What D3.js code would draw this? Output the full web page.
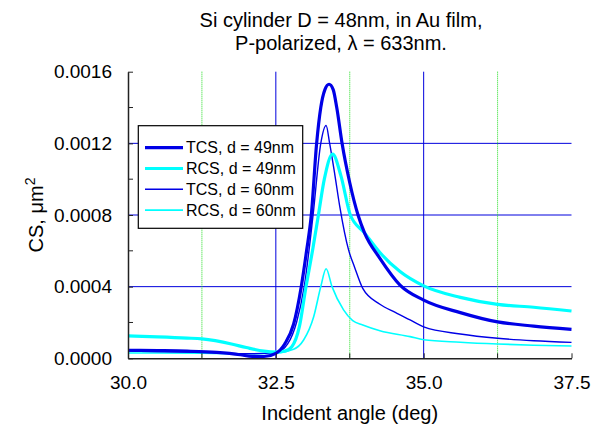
<!DOCTYPE html>
<html>
<head>
<meta charset="utf-8">
<script src="https://cdn.jsdelivr.net/npm/d3@7"></script>
<style>
  body { margin: 0; background: #fff; }
  text { font-family: Arial, "Liberation Sans", sans-serif; fill: #000; }
</style>
</head>
<body>
<div id="viz"></div>
<script>
// angle (deg) -> cross section (um^2)
const tcs49 = [
  [30.0, 0.000045], [30.5, 0.000043], [31.0, 0.00004], [31.5, 0.000033], [31.9, 0.00002],
  [32.1, 0.00001], [32.3, 0.00001], [32.5, 0.000028], [32.65, 0.00008], [32.8, 0.00019],
  [32.93, 0.0004], [33.02, 0.0006], [33.1, 0.0008], [33.19, 0.0012], [33.26, 0.0014],
  [33.33, 0.0015], [33.4, 0.00153], [33.47, 0.0015], [33.53, 0.0014], [33.62, 0.0012],
  [33.75, 0.00098], [33.89, 0.0008], [34.0, 0.0007], [34.26, 0.000558], [34.6, 0.000409],
  [35.0, 0.000325], [35.62, 0.000255], [36.25, 0.000203], [36.86, 0.00018], [37.5, 0.000162]
];
const rcs49 = [
  [30.0, 0.000125], [30.5, 0.00012], [31.0, 0.000113], [31.25, 0.000108], [31.75, 0.00008],
  [32.0, 0.00006], [32.3, 0.00004], [32.5, 0.000035], [32.65, 0.00004], [32.77, 0.000065],
  [32.9, 0.00018], [33.01, 0.0004], [33.12, 0.0006], [33.22, 0.0008], [33.32, 0.001],
  [33.46, 0.00114], [33.6, 0.00102], [33.76, 0.0008], [34.0, 0.0007], [34.26, 0.00059],
  [34.6, 0.000484], [35.0, 0.000404], [35.62, 0.00034], [36.25, 0.000301], [36.86, 0.000285],
  [37.5, 0.000264]
];
const tcs60 = [
  [30.0, 0.00004], [30.5, 0.000038], [31.0, 0.000035], [31.5, 0.00003], [32.0, 0.000025],
  [32.5, 0.00003], [32.7, 0.00008], [32.85, 0.0002], [32.98, 0.0004], [33.13, 0.0008],
  [33.26, 0.0012], [33.35, 0.0013], [33.41, 0.0012], [33.5, 0.00102], [33.58, 0.00085],
  [33.73, 0.000605], [33.83, 0.00051], [33.97, 0.00039], [34.26, 0.000302], [34.52, 0.000256],
  [34.77, 0.000214], [35.0, 0.000175], [35.62, 0.000136], [36.25, 0.000112], [36.86, 0.000098],
  [37.5, 0.000089]
];
const rcs60 = [
  [30.0, 0.00003], [30.5, 0.00003], [31.25, 0.000028], [32.0, 0.000025], [32.5, 0.00003],
  [32.8, 0.00005], [32.97, 0.000102], [33.14, 0.000232], [33.26, 0.0004], [33.35, 0.0005],
  [33.45, 0.0004], [33.645, 0.00027], [33.8, 0.00021], [33.97, 0.000186], [34.26, 0.000154],
  [34.77, 0.000121], [35.0, 0.000104], [35.62, 0.00009], [36.25, 0.00008], [36.86, 0.000073],
  [37.5, 0.0000687]
];

const seriesNames = ["TCS, d = 49nm", "RCS, d = 49nm", "TCS, d = 60nm", "RCS, d = 60nm"];
const xMajor = [30.0, 32.5, 35.0, 37.5];
const xMinor = [31.25, 33.75, 36.25];
const yMajor = [0, 0.0004, 0.0008, 0.0012, 0.0016];
const yMinor = [0.0002, 0.0006, 0.001, 0.0014];
const titleLines = ["Si cylinder D = 48nm, in Au film,", "P-polarized, \u03bb = 633nm."];

const W = 603, H = 426;
const plotLeft = 128, plotRight = 571.5, plotTop = 71.7, plotBottom = 358.3;

const svg = d3.select("#viz").append("svg")
  .attr("width", W)
  .attr("height", H);

const x = d3.scaleLinear().domain([30, 37.5]).range([plotLeft, plotRight]);
const y = d3.scaleLinear().domain([0, 0.0016]).range([plotBottom, plotTop]);

// grid: blue solid at major, green dotted at minor x
svg.append("g").selectAll("line")
  .data(yMajor.filter(d => d > 0 && d < 0.0016))
  .join("line")
  .attr("x1", plotLeft).attr("x2", plotRight)
  .attr("y1", d => y(d)).attr("y2", d => y(d))
  .attr("stroke", "#0000dd").attr("stroke-width", 1);

svg.append("g").selectAll("line")
  .data(xMajor.filter(d => d > 30 && d < 37.5))
  .join("line")
  .attr("x1", d => x(d)).attr("x2", d => x(d))
  .attr("y1", plotTop).attr("y2", plotBottom)
  .attr("stroke", "#0000dd").attr("stroke-width", 1);

svg.append("g").selectAll("line")
  .data(xMinor)
  .join("line")
  .attr("x1", d => x(d)).attr("x2", d => x(d))
  .attr("y1", plotTop).attr("y2", plotBottom)
  .attr("stroke", "#22dd22").attr("stroke-width", 1)
  .attr("stroke-dasharray", "1,1");

// curves
const line = d3.line()
  .x(d => x(d[0]))
  .y(d => y(d[1]))
  .curve(d3.curveMonotoneX);

const series = [
  { data: rcs60, color: "#00ffff", width: 1.6 },
  { data: tcs60, color: "#0000e6", width: 1.4 },
  { data: rcs49, color: "#00ffff", width: 3.2 },
  { data: tcs49, color: "#0000e6", width: 3.2 }
];

series.forEach(s => {
  svg.append("path")
    .attr("d", line(s.data))
    .attr("fill", "none")
    .attr("stroke", s.color)
    .attr("stroke-width", s.width)
    .attr("stroke-linejoin", "round");
});

// axes
const yAxis = d3.axisLeft(y)
  .tickValues(yMajor)
  .tickFormat(d3.format(".4f"))
  .tickSizeInner(-5)
  .tickSizeOuter(0)
  .tickPadding(16);

const gy = svg.append("g")
  .attr("transform", `translate(${plotLeft},0)`)
  .call(yAxis);
gy.select(".domain").attr("stroke", "#222").attr("stroke-width", 1.5);
gy.selectAll(".tick line").attr("stroke", "#222");
gy.selectAll(".tick text")
  .style("font-size", "19px")
  .style("font-family", "Arial, 'Liberation Sans', sans-serif");

gy.selectAll(".minor")
  .data(yMinor)
  .join("line")
  .attr("class", "minor")
  .attr("x1", 0).attr("x2", 5)
  .attr("y1", d => y(d)).attr("y2", d => y(d))
  .attr("stroke", "#222");

const xAxis = d3.axisBottom(x)
  .tickValues(xMajor)
  .tickFormat(d3.format(".1f"))
  .tickSizeInner(-5)
  .tickSizeOuter(0)
  .tickPadding(17);

const gx = svg.append("g")
  .attr("transform", `translate(0,${plotBottom})`)
  .call(xAxis);
gx.select(".domain").attr("stroke", "#222").attr("stroke-width", 1.5);
gx.selectAll(".tick line").attr("stroke", "#222");
gx.selectAll(".tick text")
  .style("font-size", "19px")
  .style("font-family", "Arial, 'Liberation Sans', sans-serif");

gx.selectAll(".minor")
  .data(xMinor)
  .join("line")
  .attr("class", "minor")
  .attr("x1", d => x(d)).attr("x2", d => x(d))
  .attr("y1", 0).attr("y2", -5)
  .attr("stroke", "#222");

// title
svg.append("g").selectAll("text")
  .data(titleLines)
  .join("text")
  .attr("x", 341)
  .attr("y", (d, i) => 26.7 + i * 23.3)
  .attr("text-anchor", "middle")
  .style("font-size", "20px")
  .text(d => d);

// axis labels
svg.append("text")
  .attr("x", (plotLeft + plotRight) / 2)
  .attr("y", 420)
  .attr("text-anchor", "middle")
  .style("font-size", "20px")
  .text("Incident angle (deg)");

const yl = svg.append("text")
  .attr("transform", `translate(43,${(plotTop + plotBottom) / 2}) rotate(-90)`)
  .attr("text-anchor", "middle")
  .style("font-size", "20px");
yl.append("tspan").text("CS, \u03bcm");
yl.append("tspan").attr("dy", -8).style("font-size", "14px").text("2");

// legend
const legend = svg.append("g");
legend.append("rect")
  .attr("x", 138.3).attr("y", 125.7)
  .attr("width", 164.4).attr("height", 102.6)
  .attr("fill", "#fff")
  .attr("stroke", "#000")
  .attr("stroke-width", 1.2);

const legendStyles = [
  { color: "#0000e6", width: 3.2 },
  { color: "#00ffff", width: 3.2 },
  { color: "#0000e6", width: 1.4 },
  { color: "#00ffff", width: 1.6 }
];

seriesNames.forEach((name, i) => {
  const ly = 147.7 + i * 20.8;
  legend.append("line")
    .attr("x1", 145).attr("x2", 183)
    .attr("y1", ly).attr("y2", ly)
    .attr("stroke", legendStyles[i].color)
    .attr("stroke-width", legendStyles[i].width);
  legend.append("text")
    .attr("x", 186)
    .attr("y", ly)
    .attr("dy", "0.35em")
    .style("font-size", "16px")
    .text(name);
});
</script>
</body>
</html>
